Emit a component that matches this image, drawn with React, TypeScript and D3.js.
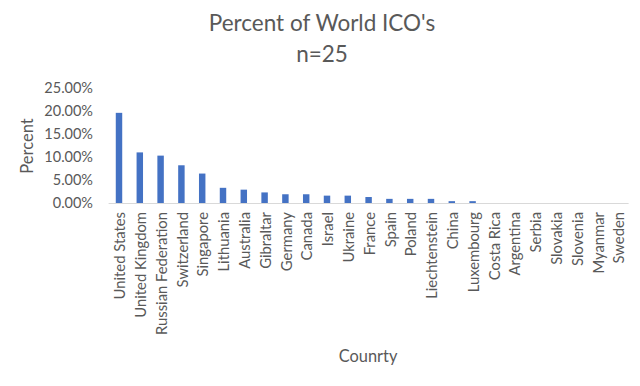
import React from "react";
import * as d3 from "d3";

const countries = [
  "United States", "United Kingdom", "Russian Federation", "Switzerland", "Singapore",
  "Lithuania", "Australia", "Gibraltar", "Germany", "Canada", "Israel", "Ukraine",
  "France", "Spain", "Poland", "Liechtenstein", "China", "Luxembourg", "Costa Rica",
  "Argentina", "Serbia", "Slovakia", "Slovenia", "Myanmar", "Sweden",
];
const percents = [
  19.6, 11.0, 10.3, 8.2, 6.4, 3.3, 2.9, 2.3, 1.9, 1.9, 1.6, 1.6,
  1.3, 0.9, 0.9, 0.9, 0.4, 0.4, 0, 0, 0, 0, 0, 0, 0,
];
const yTicks = [0, 5, 10, 15, 20, 25];
const titleLines = ["Percent of World ICO's", "n=25"];
const xTitle = "Counrty";
const yTitle = "Percent";

const W = 640;
const H = 386;
const FONT = "Lato, 'Open Sans', sans-serif";
const TEXT = "#595959";

export default function App() {
  const x = d3.scaleBand<string>().domain(countries).range([108.6, 628.6]).paddingInner(0.69).paddingOuter(0.345);
  const y = d3.scaleLinear().domain([0, 25]).range([203, 88]);
  const fmt = (v: number) => d3.format(".2f")(v) + "%";
  return (
    <svg width={W} height={H} style={{ position: "absolute", left: 0, top: 0, background: "#fff" }}>
      <rect x={0} y={0} width={W} height={H} fill="#fff" />
      <text x={322} y={31} textAnchor="middle" fontFamily={FONT} fontSize={22.5} fill={TEXT}>{titleLines[0]}</text>
      <text x={322} y={62} textAnchor="middle" fontFamily={FONT} fontSize={22.5} fill={TEXT}>{titleLines[1]}</text>
      {yTicks.map((t) => (
        <text key={t} x={93} y={y(t)} dy="0.35em" textAnchor="end" fontFamily={FONT} fontSize={14.5} fill={TEXT}>{fmt(t)}</text>
      ))}
      <line x1={108.6} x2={628.6} y1={y(0) + 0.5} y2={y(0) + 0.5} stroke="#d9d9d9" strokeWidth={1} />
      {countries.map((c, i) => (
        <rect key={c} x={x(c)!} width={x.bandwidth()} y={y(percents[i])} height={y(0) - y(percents[i])} fill="#4472C4" />
      ))}
      {countries.map((c) => {
        const cx = (x(c)! + x.bandwidth() / 2);
        return (
          <text key={c} transform={`translate(${cx + 1},${y(0) + 9}) rotate(-90)`} dy="0.35em" textAnchor="end" fontFamily={FONT} fontSize={14.8} fill={TEXT}>{c}</text>
        );
      })}
      <text transform={`translate(27,146) rotate(-90)`} dy="0.35em" textAnchor="middle" fontFamily={FONT} fontSize={16.5} fill={TEXT}>{yTitle}</text>
      <text x={368} y={362} textAnchor="middle" fontFamily={FONT} fontSize={16.4} fill={TEXT}>{xTitle}</text>
    </svg>
  );
}
